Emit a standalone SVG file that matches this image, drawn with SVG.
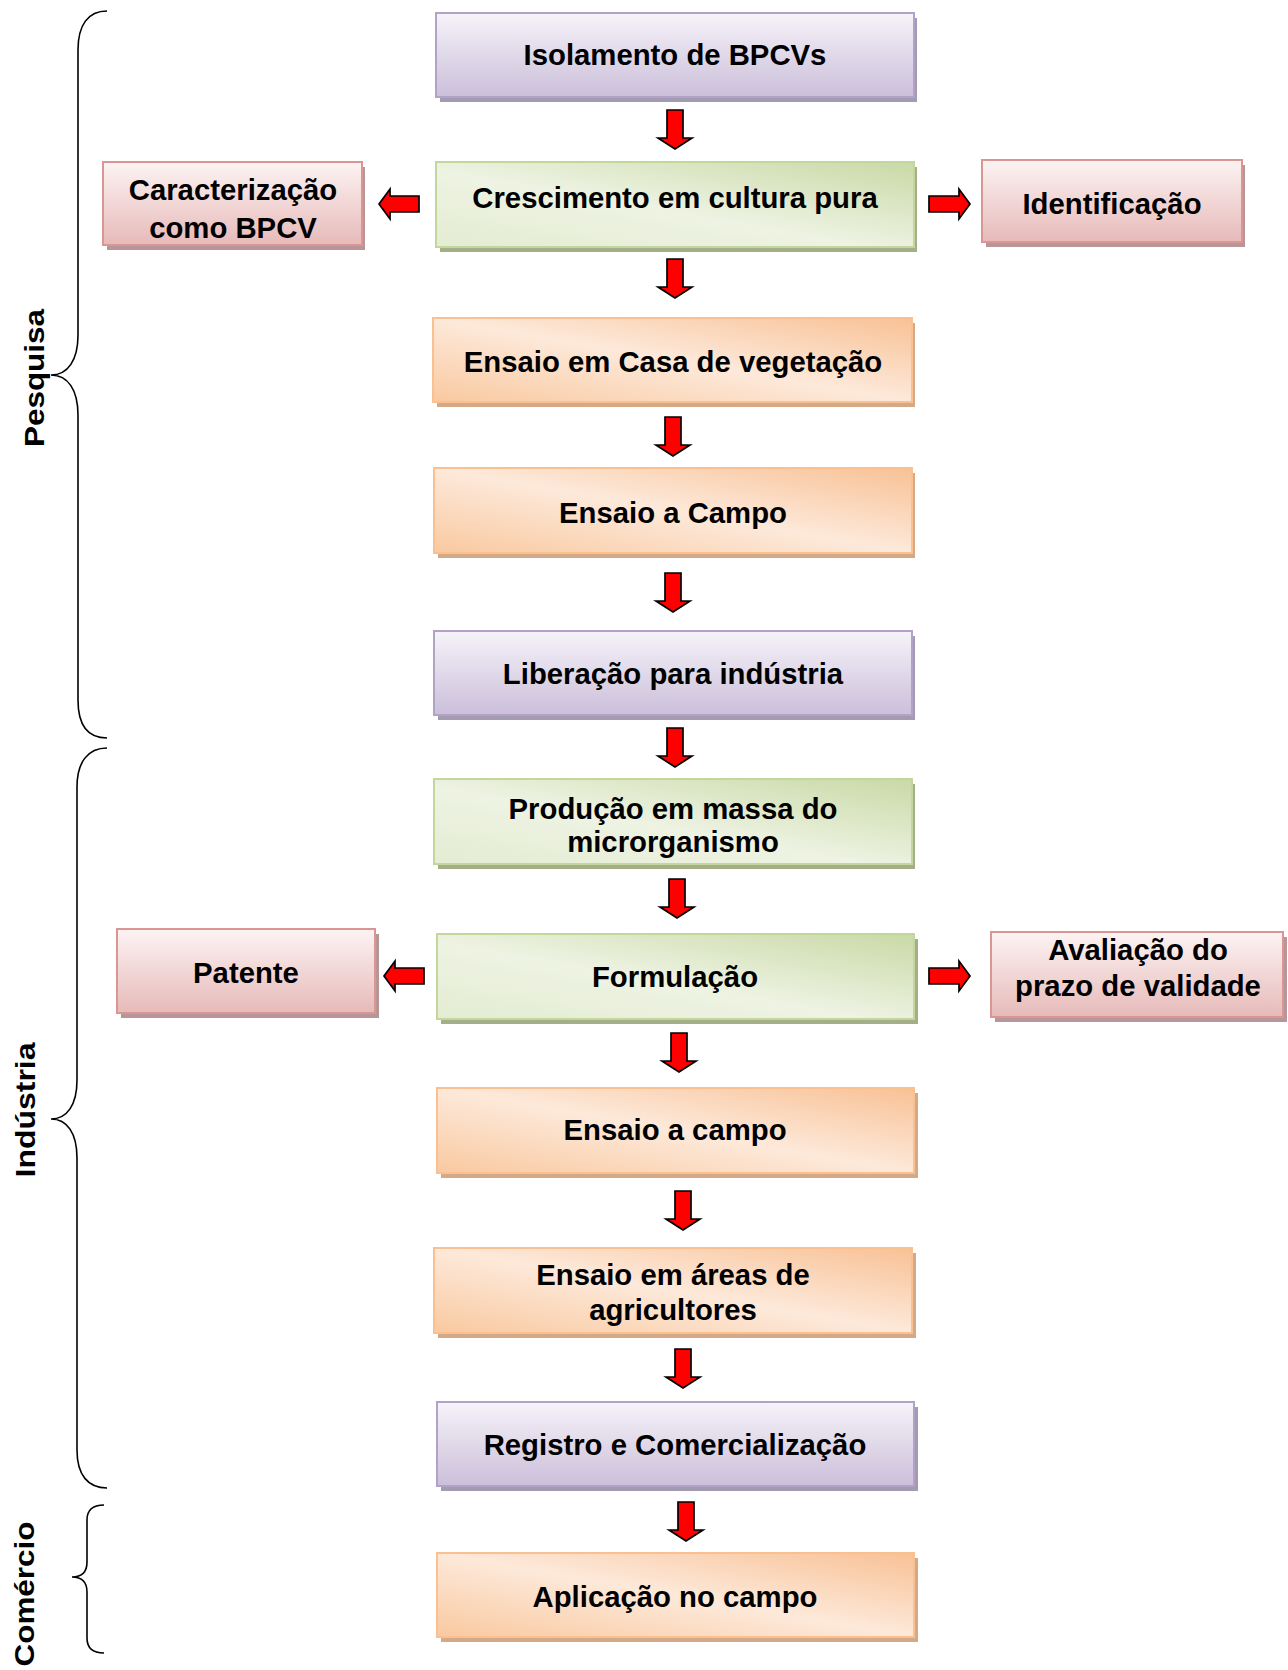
<svg xmlns="http://www.w3.org/2000/svg" xmlns:xlink="http://www.w3.org/1999/xlink" width="1288" height="1670" viewBox="0 0 1288 1670">
<style>
text{font-family:"Liberation Sans",Arial,sans-serif;font-weight:bold;fill:#000;}
.t{font-size:29.3px;text-anchor:middle;}
.side{font-size:28px;text-anchor:middle;}
.pu{fill:url(#gPu);stroke:#b3a2c7;stroke-width:2;}
.gr{fill:url(#gGr);stroke:#c3d69b;stroke-width:2;}
.or{fill:url(#gOr);stroke:#fac090;stroke-width:2;}
.pk{fill:url(#gPk);stroke:#d99694;stroke-width:2;}
.sPu{fill:#a39bb2;}
.sGr{fill:#a4ae88;}
.sOr{fill:#d3a987;}
.sPk{fill:#b79697;}
.ar{fill:#ff0000;stroke:#000;stroke-width:1.7;stroke-linejoin:miter;}
.br{fill:none;stroke:#000;stroke-width:1.6;}
</style>
<defs>
<linearGradient id="gPu" x1="0" y1="0" x2="0" y2="1">
<stop offset="0" stop-color="#f6f3f9"/><stop offset="1" stop-color="#cbbfda"/>
</linearGradient>
<linearGradient id="gGr" x1="0" y1="1" x2="1" y2="0">
<stop offset="0" stop-color="#e4ecd2"/><stop offset="0.45" stop-color="#eef3e3"/><stop offset="1" stop-color="#c9d9a6"/>
</linearGradient>
<linearGradient id="gOr" x1="0" y1="1" x2="1" y2="0">
<stop offset="0" stop-color="#f9c9a0"/><stop offset="0.5" stop-color="#fde9da"/><stop offset="1" stop-color="#f8c195"/>
</linearGradient>
<linearGradient id="gPk" x1="0" y1="0" x2="0" y2="1">
<stop offset="0" stop-color="#fdf3f3"/><stop offset="1" stop-color="#e6bab9"/>
</linearGradient>
<path id="dn" class="ar" d="M-8,0 L8,0 L8,28 L17,28 L0,39 L-17,28 L-8,28 Z"/>
<path id="rt" class="ar" d="M0,-8 L30,-8 L30,-15 L41,0 L30,15 L30,8 L0,8 Z"/>
<path id="lt" class="ar" d="M0,0 L11,-15 L11,-8 L40,-8 L40,8 L11,8 L11,15 Z"/>
</defs>

<g id="braces">
<path class="br" d="M107,11 C88,11 78,25 78,50 L78,335 C78,360 68,375 51,375 C68,375 78,390 78,415 L78,700 C78,725 88,738 107,738"/>
<path class="br" d="M107,748 C88,748 77,762 77,787 L77,1080 C77,1105 67,1119 51,1119 C67,1119 77,1133 77,1158 L77,1450 C77,1475 88,1488 107,1488"/>
<path class="br" d="M104,1505 C93,1505 87,1510 87,1520 L87,1562 C87,1572 82,1577 72,1577 C82,1577 87,1582 87,1592 L87,1638 C87,1648 93,1653 104,1653"/>
</g>
<g id="labels">
<text class="side" transform="translate(44,378) rotate(-90)" textLength="138" lengthAdjust="spacingAndGlyphs">Pesquisa</text>
<text class="side" transform="translate(35,1110) rotate(-90)" textLength="135" lengthAdjust="spacingAndGlyphs">Indústria</text>
<text class="side" transform="translate(34,1594) rotate(-90)" textLength="145" lengthAdjust="spacingAndGlyphs">Comércio</text>
</g>

<g id="connectors">
<use xlink:href="#dn" x="675" y="110"/>
<use xlink:href="#dn" x="675" y="259"/>
<use xlink:href="#dn" x="673" y="417"/>
<use xlink:href="#dn" x="673" y="573"/>
<use xlink:href="#dn" x="675" y="728"/>
<use xlink:href="#dn" x="677" y="879"/>
<use xlink:href="#dn" x="679" y="1033"/>
<use xlink:href="#dn" x="683" y="1191"/>
<use xlink:href="#dn" x="683" y="1349"/>
<use xlink:href="#dn" x="686" y="1502"/>
<use xlink:href="#lt" x="379" y="204"/>
<use xlink:href="#rt" x="929" y="204"/>
<use xlink:href="#lt" x="384" y="976"/>
<use xlink:href="#rt" x="929" y="976"/>
</g>

<g id="n1"><rect class="sPu" x="440" y="18" width="477" height="84"/><rect class="pu" x="436" y="13" width="478" height="84"/><text class="t" x="675" y="65">Isolamento de BPCVs</text></g>
<g id="n2"><rect class="sGr" x="440" y="167" width="477" height="85"/><rect class="gr" x="436" y="162" width="478" height="85"/><text class="t" x="675" y="208">Crescimento em cultura pura</text></g>
<g id="n3"><rect class="sPk" x="107" y="167" width="258" height="83"/><rect class="pk" x="103" y="162" width="259" height="83"/><text class="t" x="233" y="200">Caracterização</text><text class="t" x="233" y="238">como BPCV</text></g>
<g id="n4"><rect class="sPk" x="986" y="165" width="259" height="82"/><rect class="pk" x="982" y="160" width="260" height="82"/><text class="t" x="1112" y="214">Identificação</text></g>
<g id="n5"><rect class="sOr" x="437" y="323" width="478" height="84"/><rect class="or" x="433" y="318" width="479" height="84"/><text class="t" x="673" y="372">Ensaio em Casa de vegetação</text></g>
<g id="n6"><rect class="sOr" x="438" y="473" width="477" height="85"/><rect class="or" x="434" y="468" width="478" height="85"/><text class="t" x="673" y="523">Ensaio a Campo</text></g>
<g id="n7"><rect class="sPu" x="438" y="636" width="477" height="84"/><rect class="pu" x="434" y="631" width="478" height="84"/><text class="t" x="673" y="684">Liberação para indústria</text></g>
<g id="n8"><rect class="sGr" x="438" y="784" width="477" height="85"/><rect class="gr" x="434" y="779" width="478" height="85"/><text class="t" x="673" y="819">Produção em massa do</text><text class="t" x="673" y="852">microrganismo</text></g>
<g id="n9"><rect class="sGr" x="441" y="939" width="477" height="85"/><rect class="gr" x="437" y="934" width="477" height="85"/><text class="t" x="675" y="987">Formulação</text></g>
<g id="n10"><rect class="sPk" x="121" y="934" width="258" height="84"/><rect class="pk" x="117" y="929" width="258" height="84"/><text class="t" x="246" y="983">Patente</text></g>
<g id="n11"><rect class="sPk" x="995" y="937" width="292" height="85"/><rect class="pk" x="991" y="932" width="292" height="85"/><text class="t" x="1138" y="960">Avaliação do</text><text class="t" x="1138" y="996">prazo de validade</text></g>
<g id="n12"><rect class="sOr" x="441" y="1093" width="477" height="85"/><rect class="or" x="437" y="1088" width="477" height="85"/><text class="t" x="675" y="1140">Ensaio a campo</text></g>
<g id="n13"><rect class="sOr" x="438" y="1253" width="478" height="85"/><rect class="or" x="434" y="1248" width="478" height="85"/><text class="t" x="673" y="1285">Ensaio em áreas de</text><text class="t" x="673" y="1320">agricultores</text></g>
<g id="n14"><rect class="sPu" x="441" y="1407" width="477" height="84"/><rect class="pu" x="437" y="1402" width="477" height="84"/><text class="t" x="675" y="1455">Registro e Comercialização</text></g>
<g id="n15"><rect class="sOr" x="441" y="1558" width="477" height="84"/><rect class="or" x="437" y="1553" width="477" height="84"/><text class="t" x="675" y="1607">Aplicação no campo</text></g>
</svg>
